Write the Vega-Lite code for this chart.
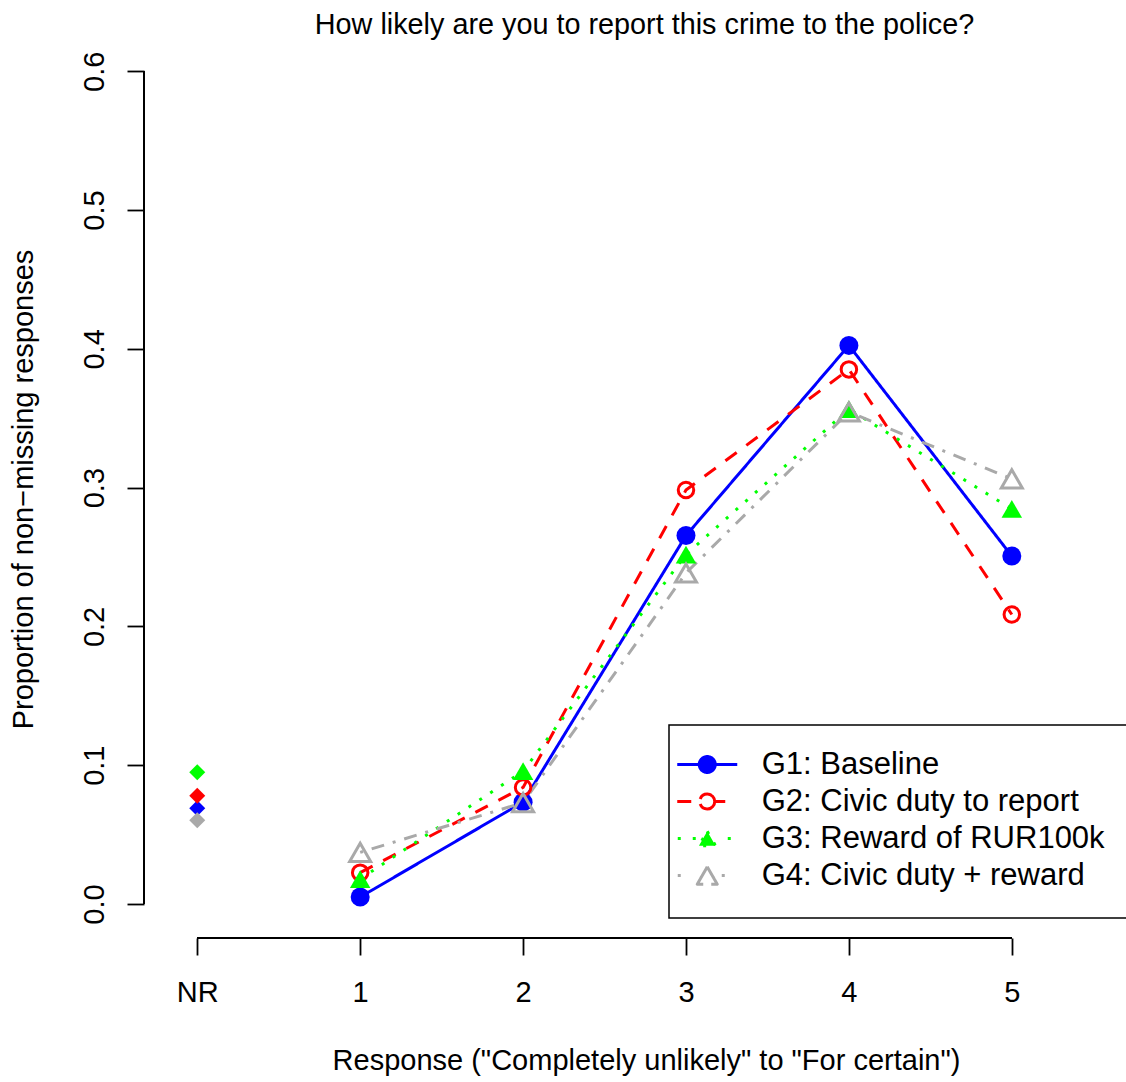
{
  "$schema": "https://vega.github.io/schema/vega-lite/v6.json",
  "width": 982,
  "height": 900,
  "autosize": {"type": "none"},
  "padding": {"left": 144, "top": 38, "right": 0, "bottom": 144},
  "background": "white",
  "config": {"view": {"stroke": null}, "font": "Liberation Sans", "axis": {"grid": false}, "legend": {"strokeWidth": 1.5}},
  "title": {
    "text": "How likely are you to report this crime to the police?",
    "fontSize": 28.8,
    "fontWeight": "normal",
    "color": "black",
    "anchor": "middle",
    "frame": "group",
    "baseline": "alphabetic",
    "offset": 5,
    "dx": 9.5,
    "dy": 30
  },
  "data": {
    "values": [
      {"group": "G1: Baseline", "response": 0, "proportion": 0.069},
      {"group": "G1: Baseline", "response": 1, "proportion": 0.005},
      {"group": "G1: Baseline", "response": 2, "proportion": 0.0734},
      {"group": "G1: Baseline", "response": 3, "proportion": 0.2655},
      {"group": "G1: Baseline", "response": 4, "proportion": 0.4025},
      {"group": "G1: Baseline", "response": 5, "proportion": 0.2507},
      {"group": "G2: Civic duty to report", "response": 0, "proportion": 0.078},
      {"group": "G2: Civic duty to report", "response": 1, "proportion": 0.0226},
      {"group": "G2: Civic duty to report", "response": 2, "proportion": 0.084},
      {"group": "G2: Civic duty to report", "response": 3, "proportion": 0.2983},
      {"group": "G2: Civic duty to report", "response": 4, "proportion": 0.3852},
      {"group": "G2: Civic duty to report", "response": 5, "proportion": 0.2086},
      {"group": "G3: Reward of RUR100k", "response": 0, "proportion": 0.095},
      {"group": "G3: Reward of RUR100k", "response": 1, "proportion": 0.018},
      {"group": "G3: Reward of RUR100k", "response": 2, "proportion": 0.0957},
      {"group": "G3: Reward of RUR100k", "response": 3, "proportion": 0.2518},
      {"group": "G3: Reward of RUR100k", "response": 4, "proportion": 0.3565},
      {"group": "G3: Reward of RUR100k", "response": 5, "proportion": 0.2847},
      {"group": "G4: Civic duty + reward", "response": 0, "proportion": 0.0604},
      {"group": "G4: Civic duty + reward", "response": 1, "proportion": 0.0372},
      {"group": "G4: Civic duty + reward", "response": 2, "proportion": 0.073},
      {"group": "G4: Civic duty + reward", "response": 3, "proportion": 0.2385},
      {"group": "G4: Civic duty + reward", "response": 4, "proportion": 0.3545},
      {"group": "G4: Civic duty + reward", "response": 5, "proportion": 0.3063}
    ]
  },
  "encoding": {
    "x": {
      "field": "response",
      "type": "quantitative",
      "scale": {"domain": [-0.327, 5.701], "nice": false, "zero": false},
      "axis": {
        "title": "Response (\"Completely unlikely\" to \"For certain\")",
        "values": [0, 1, 2, 3, 4, 5],
        "labelExpr": "datum.value == 0 ? 'NR' : format(datum.value, 'd')",
        "domain": false,
        "ticks": true,
        "tickSize": 17,
        "tickWidth": 1.8,
        "tickColor": "black",
        "labelFontSize": 29,
        "labelColor": "black",
        "labelPadding": 46,
        "labelBaseline": "alphabetic",
        "labelAlign": "center",
        "labelOverlap": false,
        "labelFlush": false,
        "titleFontSize": 29,
        "titleFontWeight": "normal",
        "titleColor": "black",
        "titleX": 502,
        "titleY": 131,
        "titleBaseline": "alphabetic",
        "titleAlign": "center"
      }
    },
    "y": {
      "field": "proportion",
      "type": "quantitative",
      "scale": {"domain": [-0.0245, 0.624], "nice": false, "zero": false},
      "axis": {
        "title": "Proportion of non−missing responses",
        "values": [0, 0.1, 0.2, 0.3, 0.4, 0.5, 0.6],
        "format": ".1f",
        "domain": false,
        "ticks": true,
        "tickSize": 17,
        "tickWidth": 1.8,
        "tickColor": "black",
        "labelAngle": 270,
        "labelAlign": "center",
        "labelBaseline": "alphabetic",
        "labelFontSize": 29,
        "labelColor": "black",
        "labelPadding": 24,
        "labelOverlap": false,
        "labelFlush": false,
        "titleFontSize": 29,
        "titleFontWeight": "normal",
        "titleColor": "black",
        "titleAngle": 270,
        "titleX": -111.5,
        "titleY": 451,
        "titleBaseline": "alphabetic",
        "titleAlign": "center"
      }
    }
  },
  "layer": [
    {
      "transform": [{"filter": "datum.response > 0"}],
      "mark": {"type": "line", "strokeWidth": 3, "strokeJoin": "round"},
      "encoding": {
        "stroke": {
          "field": "group",
          "type": "nominal",
          "scale": {
            "domain": ["G1: Baseline", "G2: Civic duty to report", "G3: Reward of RUR100k", "G4: Civic duty + reward"],
            "range": ["#0000FF", "#FF0000", "#00FF00", "#A9A9A9"]
          },
          "legend": {
            "title": null,
            "orient": "none",
            "legendX": 525,
            "legendY": 687,
            "direction": "vertical",
            "strokeColor": "black",
            "fillColor": "white",
            "padding": 24,
            "rowPadding": 0,
            "labelFontSize": 31,
            "labelColor": "black",
            "labelLimit": 600,
            "labelOffset": 39,
            "symbolOffset": -1.25,
            "symbolSize": 400,
            "symbolStrokeWidth": 3,
            "symbolOpacity": 1,
            "encode": {
              "symbols": {
                "update": {
                  "shape": {"signal": "datum.value == 'G1: Baseline' ? 'M-3,-1.655L-3,-1.655M50,1.655L50,1.655M-3,0H3M0.8,0C0.8,0.4418 0.4418,0.8 0,0.8C-0.4418,0.8 -0.8,0.4418 -0.8,0C-0.8,-0.4418 -0.4418,-0.8 0,-0.8C0.4418,-0.8 0.8,-0.4418 0.8,0Z' : datum.value == 'G2: Civic duty to report' ? 'M-3,-1.655L-3,-1.655M50,1.655L50,1.655M-3,0H-1.5M0.75,0H1.8M0.75,0C0.75,0.4142 0.4142,0.75 0,0.75C-0.4142,0.75 -0.75,0.4142 -0.75,0C-0.75,-0.4142 -0.4142,-0.75 0,-0.75C0.4142,-0.75 0.75,-0.4142 0.75,0ZM0.75,0C0.75,-0.4142 0.4142,-0.75 0,-0.75C-0.4142,-0.75 -0.75,-0.4142 -0.75,0C-0.75,0.4142 -0.4142,0.75 0,0.75C0.4142,0.75 0.75,0.4142 0.75,0Z' : datum.value == 'G3: Reward of RUR100k' ? 'M-3,-1.655L-3,-1.655M50,1.655L50,1.655M-2.95,0H-2.65M-1.45,0H-1.15M2.05,0H2.35M0,-0.72L0.83,0.72L-0.83,0.72Z' : 'M-3,-1.655L-3,-1.655M50,1.655L50,1.655M-2.95,0H-2.65M1.45,0H1.75M0,-0.866L1,0.866L-1,0.866ZM0,-0.866L-1,0.866L1,0.866Z'"},
                  "fill": {"signal": "datum.value == 'G1: Baseline' ? '#0000FF' : datum.value == 'G3: Reward of RUR100k' ? '#00FF00' : 'transparent'"},
                  "stroke": {"signal": "datum.value == 'G1: Baseline' ? '#0000FF' : datum.value == 'G2: Civic duty to report' ? '#FF0000' : datum.value == 'G3: Reward of RUR100k' ? '#00FF00' : '#A9A9A9'"},
                  "strokeWidth": {"value": 3},
                  "strokeJoin": {"value": "round"},
                  "strokeDash": {"value": []},
                  "opacity": {"value": 1},
                  "size": {"value": 400}
                }
              }
            }
          }
        },
        "strokeDash": {
          "field": "group",
          "type": "nominal",
          "scale": {
            "domain": ["G1: Baseline", "G2: Civic duty to report", "G3: Reward of RUR100k", "G4: Civic duty + reward"],
            "range": [[1, 0], [14, 12], [3, 10], [3, 9, 13, 9]]
          },
          "legend": null
        }
      }
    },
    {
      "transform": [{"filter": "datum.response > 0 && datum.group == 'G1: Baseline'"}],
      "mark": {"type": "point", "shape": "circle", "filled": true, "size": 361, "opacity": 1},
      "encoding": {
        "fill": {
          "field": "group",
          "type": "nominal",
          "scale": {
            "domain": ["G1: Baseline", "G2: Civic duty to report", "G3: Reward of RUR100k", "G4: Civic duty + reward"],
            "range": ["#0000FF", "#FF0000", "#00FF00", "#A9A9A9"]
          },
          "legend": null
        }
      }
    },
    {
      "transform": [{"filter": "datum.response > 0 && datum.group == 'G2: Civic duty to report'"}],
      "mark": {"type": "point", "shape": "circle", "filled": false, "size": 240, "strokeWidth": 3, "opacity": 1},
      "encoding": {"stroke": {"field": "group", "type": "nominal", "legend": null}}
    },
    {
      "transform": [{"filter": "datum.response > 0 && datum.group == 'G3: Reward of RUR100k'"}],
      "mark": {"type": "point", "shape": "triangle-up", "filled": true, "size": 420, "opacity": 1},
      "encoding": {"fill": {"field": "group", "type": "nominal", "legend": null}}
    },
    {
      "transform": [{"filter": "datum.response > 0 && datum.group == 'G4: Civic duty + reward'"}],
      "mark": {"type": "point", "shape": "triangle-up", "filled": false, "size": 440, "strokeWidth": 3, "opacity": 1},
      "encoding": {"stroke": {"field": "group", "type": "nominal", "legend": null}}
    },
    {
      "transform": [{"filter": "datum.response == 0"}],
      "mark": {"type": "point", "shape": "diamond", "filled": true, "size": 256, "opacity": 1},
      "encoding": {"fill": {"field": "group", "type": "nominal", "legend": null}}
    },
    {
      "mark": {"type": "rule", "strokeWidth": 1.8, "color": "black"},
      "encoding": {
        "x": {"datum": -0.327, "type": "quantitative"},
        "y": {"datum": 0, "type": "quantitative"},
        "y2": {"datum": 0.6}
      }
    },
    {
      "mark": {"type": "rule", "strokeWidth": 1.8, "color": "black"},
      "encoding": {
        "x": {"datum": 0, "type": "quantitative"},
        "x2": {"datum": 5},
        "y": {"datum": -0.0245, "type": "quantitative"}
      }
    }
  ]
}
